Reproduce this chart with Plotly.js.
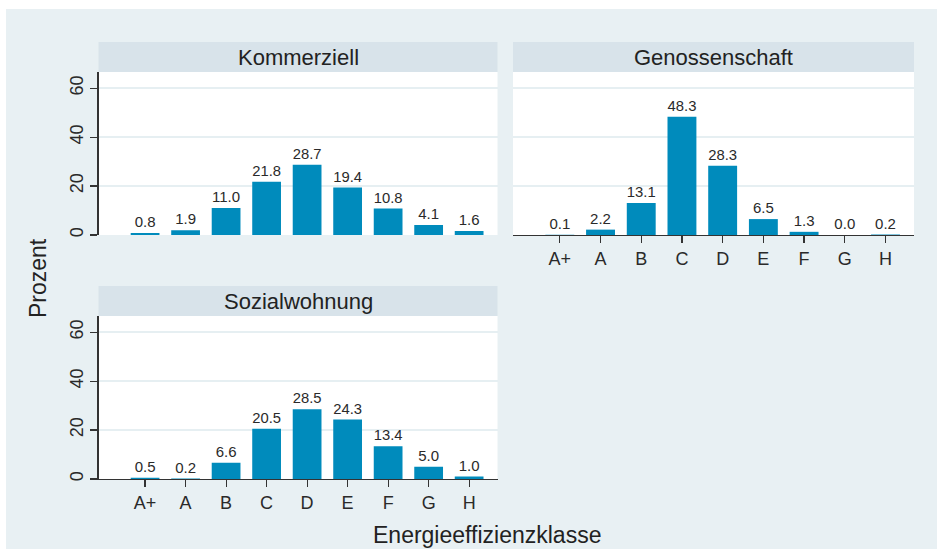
<!DOCTYPE html>
<html>
<head>
<meta charset="utf-8">
<script src="https://cdn.plot.ly/plotly-3.0.1.min.js"></script>
<style>
html,body{margin:0;padding:0;background:#ffffff;}
#chart{position:absolute;left:6px;top:9px;width:931px;height:540px;}
</style>
</head>
<body>
<div id="chart"></div>
<script>
const categories = ['A+','A','B','C','D','E','F','G','H'];
const kommerziell = [0.8,1.9,11.0,21.8,28.7,19.4,10.8,4.1,1.6];
const genossenschaft = [0.1,2.2,13.1,48.3,28.3,6.5,1.3,0.0,0.2];
const sozialwohnung = [0.5,0.2,6.6,20.5,28.5,24.3,13.4,5.0,1.0];
const panelTitles = ['Kommerziell','Genossenschaft','Sozialwohnung'];
const yTicks = [0,20,40,60];

const W = 931, H = 540;
const barColor = '#008bbc';
const bg = '#e8f0f3';
const stripColor = '#d8e3ea';
const gridColor = '#e6eff2';
const axisColor = '#333333';

function bar(y, xa, ya){
  return {type:'bar', x:categories, y:y, xaxis:xa, yaxis:ya,
    marker:{color:barColor, line:{width:0}}, width:0.71,
    texttemplate:'%{y:.1f}', textposition:'outside', cliponaxis:false,
    textfont:{family:'Liberation Sans, Arial, sans-serif', size:15, color:'#2a2a2a'},
    hoverinfo:'skip', showlegend:false};
}
const traces = [
  bar(kommerziell,'x','y'),
  bar(genossenschaft,'x2','y2'),
  bar(sozialwohnung,'x3','y3')
];

const d1 = [92.5/W, 491.5/W];
const d2 = [507/W, 908/W];
const top1 = [(H-226)/H, (H-63)/H];
const bot1 = [(H-470)/H, (H-307)/H];
const xr = [-1.15, 8.7];
const yr = [0, 66.6];
const font = {family:'Liberation Sans, Arial, sans-serif', color:'#222'};

function yax(domain, anchor, show){
  return {domain:domain, anchor:anchor, range:yr, tickvals:yTicks, ticktext:yTicks.map(String),
    showgrid:true, gridcolor:gridColor, gridwidth:1.5, zeroline:false,
    showline:show, linecolor:axisColor, linewidth:1.2,
    ticks:show?'outside':'', ticklen:7, tickcolor:axisColor, tickwidth:1.2,
    showticklabels:show, tickangle:-90, tickfont:{family:font.family,size:18,color:'#2a2a2a'}, fixedrange:true};
}
function xax(domain, anchor, show){
  return {domain:domain, anchor:anchor, range:xr, type:'category',
    showgrid:false, zeroline:false, showline:show, linecolor:axisColor, linewidth:1.2,
    ticks:show?'outside':'', ticklen:7, tickcolor:axisColor, tickwidth:1.2,
    showticklabels:show, tickfont:{family:font.family,size:18,color:'#2a2a2a'}, fixedrange:true};
}

function strip(dx, dy, text){
  return {
    shape:{type:'rect', xref:'paper', yref:'paper', x0:dx[0], x1:dx[1], y0:dy[1], y1:dy[1]+30/H,
      fillcolor:stripColor, line:{width:0}, layer:'below'},
    ann:{xref:'paper', yref:'paper', x:(dx[0]+dx[1])/2, y:dy[1]+15/H, text:text, showarrow:false,
      xanchor:'center', yanchor:'middle', font:{family:font.family, size:22, color:'#222'}}
  };
}
const s1 = strip(d1, top1, panelTitles[0]);
const s2 = strip(d2, top1, panelTitles[1]);
const s3 = strip(d1, bot1, panelTitles[2]);

const layout = {
  width:W, height:H, margin:{l:0,r:0,t:0,b:0},
  paper_bgcolor:bg, plot_bgcolor:'#ffffff',
  font:font, bargap:0.3,
  xaxis: xax(d1,'y',false),
  yaxis: yax(top1,'x',true),
  xaxis2: xax(d2,'y2',true),
  yaxis2: yax(top1,'x2',false),
  xaxis3: xax(d1,'y3',true),
  yaxis3: yax(bot1,'x3',true),
  shapes:[s1.shape, s2.shape, s3.shape],
  annotations:[s1.ann, s2.ann, s3.ann,
    {xref:'paper', yref:'paper', x:32/W, y:271/H, text:'Prozent', textangle:-90, showarrow:false,
      xanchor:'center', yanchor:'middle', font:{family:font.family,size:23,color:'#222'}},
    {xref:'paper', yref:'paper', x:481/W, y:14/H, text:'Energieeffizienzklasse', showarrow:false,
      xanchor:'center', yanchor:'middle', font:{family:font.family,size:23,color:'#222'}}
  ]
};
Plotly.newPlot('chart', traces, layout, {staticPlot:true, displayModeBar:false});
</script>
</body>
</html>
